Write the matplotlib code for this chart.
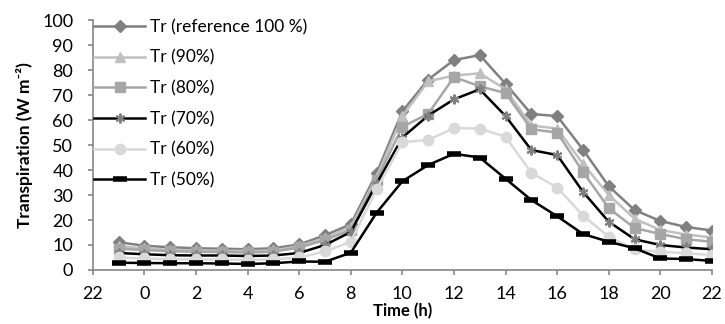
import matplotlib
matplotlib.use("Agg")
import matplotlib.pyplot as plt

plt.rcParams['font.family'] = ['Lato', 'DejaVu Sans']

# hours of the day, starting at 23 h of the previous day
hours = [23, 0, 1, 2, 3, 4, 5, 6, 7, 8, 9, 10, 11, 12, 13, 14, 15, 16, 17, 18, 19, 20, 21, 22]
tick_labels = ["22", "0", "2", "4", "6", "8", "10", "12", "14", "16", "18", "20", "22"]

tr_ref = [11.1, 9.7, 9.1, 8.7, 8.5, 8.3, 8.7, 10.2, 13.9, 18.3, 38.7, 63.5,
          76.2, 84.0, 86.0, 74.5, 62.4, 61.6, 48.2, 33.5, 24.0, 19.6, 17.2, 15.8]
tr_90 = [9.6, 8.6, 8.1, 7.8, 7.7, 7.6, 7.8, 9.5, 12.8, 17.2, 37.2, 61.5,
         75.5, 77.8, 78.7, 72.3, 57.8, 56.6, 42.5, 30.0, 20.5, 16.0, 14.2, 13.0]
tr_80 = [8.5, 8.0, 7.5, 7.3, 7.2, 7.0, 7.3, 9.0, 12.0, 16.0, 36.0, 57.3,
         62.5, 77.2, 73.5, 70.8, 56.3, 55.0, 39.3, 24.7, 16.8, 14.4, 12.3, 11.3]
tr_70 = [6.8, 6.3, 5.9, 5.8, 5.8, 5.6, 5.8, 6.8, 10.0, 15.2, 34.5, 53.0,
         61.8, 68.3, 72.3, 61.6, 48.0, 46.0, 31.3, 19.3, 12.3, 10.0, 9.0, 8.3]
tr_60 = [5.0, 4.6, 4.3, 4.2, 4.2, 4.1, 4.2, 5.0, 7.4, 11.3, 32.3, 51.2,
         52.0, 56.8, 56.6, 53.3, 38.9, 33.0, 21.8, 13.3, 8.2, 7.3, 6.7, 6.0]
tr_50 = [2.9, 2.8, 2.7, 2.7, 2.6, 2.4, 2.7, 3.4, 3.3, 6.9, 22.9, 35.5,
         42.0, 46.5, 45.0, 36.5, 28.0, 21.5, 14.4, 11.3, 8.7, 4.6, 4.4, 3.6]

# plot position of each hour (23 h sits one step right of the first "22" tick)
x = list(range(1, len(hours) + 1))

fig = plt.figure(figsize=(7.25, 3.24), dpi=100)
ax = fig.add_axes([0.128, 0.1667, 0.854, 0.7713])

lw = 1.8
ax.plot(x, tr_ref, color="#808080", lw=lw, marker="D", ms=6, label="Tr (reference 100 %)")
ax.plot(x, tr_90, color="#c0c0c0", lw=lw, marker="^", ms=7.5, label="Tr (90%)")
ax.plot(x, tr_80, color="#a6a6a6", lw=lw, marker="s", ms=6.5, label="Tr (80%)")
ax.plot(x, tr_70, color="black", lw=lw, marker=(6, 2, 0), ms=7, mec="#808080", mew=1.5, label="Tr (70%)")
ax.plot(x, tr_60, color="#d9d9d9", lw=lw, marker="o", ms=7.5, label="Tr (60%)")
ax.plot(x, tr_50, color="black", lw=lw, marker="_", ms=10, mew=4, label="Tr (50%)")

ax.set_xlim(0, 24)
ax.set_ylim(0, 100)
ax.set_xticks(range(0, 25, 2))
ax.set_xticklabels(tick_labels)
ax.set_yticks(range(0, 101, 10))

for s in ["top", "right"]:
    ax.spines[s].set_visible(False)
for s in ["left", "bottom"]:
    ax.spines[s].set_color("#868686")
    ax.spines[s].set_linewidth(1.2)
ax.tick_params(colors="#868686", labelcolor="black", labelsize=13, length=3.6, width=1.2)
ax.tick_params(axis="y", pad=10.5)
ax.tick_params(axis="x", pad=8)

ax.set_xlabel("Time (h)", fontsize=12, fontweight="bold")
ax.xaxis.set_label_coords(0.5, -0.13)
ax.set_ylabel("Transpiration (W m\u207b\u00b2)", fontsize=12.5, fontweight="bold")
ax.yaxis.set_label_coords(-0.097, 0.5)

ax.legend(loc="upper left", bbox_to_anchor=(0.0025, 1.005), frameon=False, fontsize=12.5,
          handlelength=2.9, handletextpad=0.3, labelspacing=0.84, borderpad=0, borderaxespad=0)

fig.savefig("out.png", dpi=100)
